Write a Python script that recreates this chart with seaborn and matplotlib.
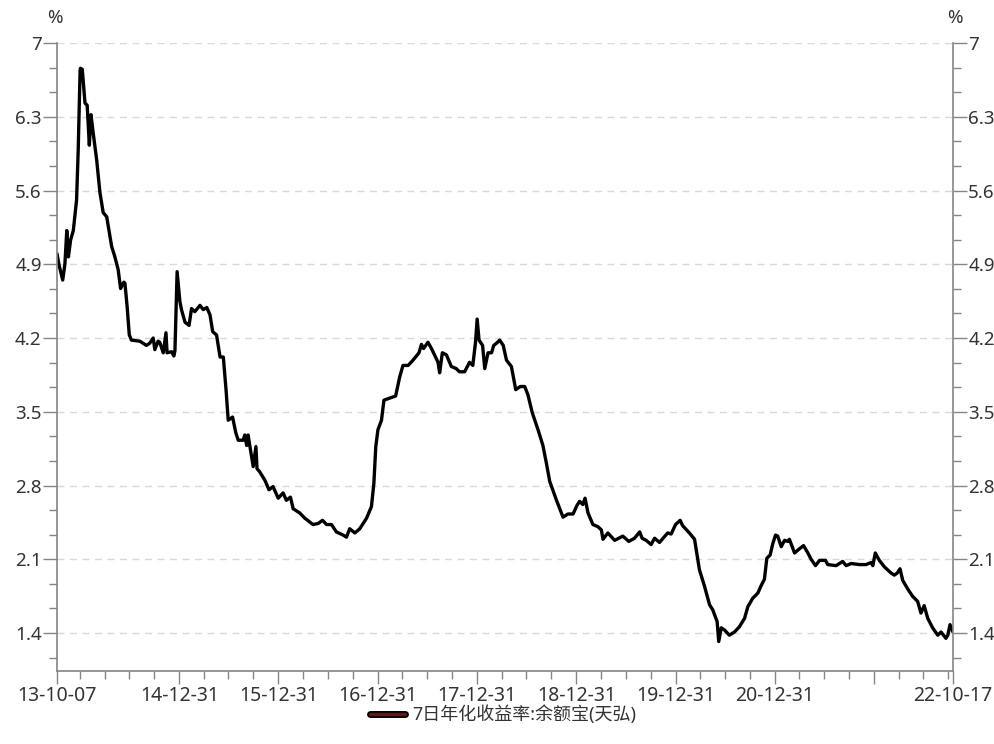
import pandas as pd
import matplotlib
matplotlib.use("Agg")
import matplotlib.pyplot as plt
import matplotlib.dates as mdates
import matplotlib.patheffects as pe
from matplotlib.lines import Line2D
from matplotlib.ticker import MultipleLocator, FuncFormatter
import seaborn as sns

series_name = "7日年化收益率:余额宝(天弘)"

# 7-day annualised yield, %
dates = [
    "2013-10-07", "2013-10-14", "2013-10-28", "2013-11-05", "2013-11-12", "2013-11-18", "2013-11-26",
    "2013-12-06", "2013-12-18", "2013-12-24", "2013-12-31",
    "2014-01-01", "2014-01-08", "2014-01-18", "2014-01-26", "2014-02-03", "2014-02-09", "2014-02-17",
    "2014-03-02", "2014-03-14", "2014-03-26", "2014-04-08", "2014-04-26", "2014-05-08", "2014-05-20",
    "2014-05-29", "2014-06-10", "2014-06-14", "2014-06-22", "2014-06-30", "2014-07-08", "2014-08-08",
    "2014-09-01", "2014-09-13", "2014-09-26", "2014-10-02", "2014-10-14", "2014-10-20", "2014-11-02",
    "2014-11-12", "2014-11-16", "2014-12-03", "2014-12-11", "2014-12-15", "2014-12-23",
    "2015-01-02", "2015-01-08", "2015-01-21", "2015-02-05", "2015-02-14", "2015-02-26", "2015-03-17",
    "2015-03-29", "2015-04-11", "2015-04-23", "2015-05-03", "2015-05-17", "2015-05-30", "2015-06-11",
    "2015-06-21", "2015-06-29", "2015-07-15", "2015-07-27", "2015-08-05", "2015-08-23", "2015-08-29",
    "2015-09-05", "2015-09-10", "2015-09-29", "2015-10-09", "2015-10-13", "2015-10-23", "2015-11-11",
    "2015-11-26", "2015-12-11", "2015-12-30",
    "2016-01-17", "2016-01-29", "2016-02-13", "2016-02-23", "2016-03-18", "2016-04-06", "2016-05-06",
    "2016-05-25", "2016-06-10", "2016-06-25", "2016-07-13", "2016-07-31", "2016-08-25", "2016-09-06",
    "2016-09-18", "2016-10-07", "2016-10-25", "2016-11-19", "2016-12-07", "2016-12-16", "2016-12-23",
    "2016-12-31",
    "2017-01-13", "2017-01-22", "2017-02-12", "2017-03-06", "2017-03-21", "2017-04-02", "2017-04-21",
    "2017-05-09", "2017-05-31", "2017-06-09", "2017-06-17", "2017-07-03", "2017-07-16", "2017-07-31",
    "2017-08-09", "2017-08-15", "2017-08-25", "2017-09-09", "2017-09-27", "2017-10-15", "2017-10-27",
    "2017-11-15", "2017-12-03", "2017-12-15", "2017-12-25", "2017-12-31",
    "2018-01-07", "2018-01-20", "2018-01-28", "2018-02-09", "2018-02-22", "2018-03-02", "2018-03-12",
    "2018-03-24", "2018-04-06", "2018-04-18", "2018-05-06", "2018-05-22", "2018-06-08", "2018-06-24",
    "2018-07-06", "2018-07-22", "2018-08-12", "2018-08-30", "2018-09-12", "2018-09-24", "2018-10-19",
    "2018-11-12", "2018-11-30", "2018-12-19",
    "2019-01-02", "2019-01-12", "2019-01-24", "2019-02-01", "2019-02-12", "2019-03-02", "2019-03-20",
    "2019-04-02", "2019-04-08", "2019-04-26", "2019-05-21", "2019-06-20", "2019-07-12", "2019-08-02",
    "2019-08-21", "2019-08-30", "2019-09-14", "2019-10-02", "2019-10-15", "2019-11-02", "2019-12-02",
    "2019-12-15", "2019-12-31",
    "2020-01-17", "2020-01-26", "2020-02-02", "2020-02-20", "2020-03-10", "2020-03-28", "2020-04-15",
    "2020-05-04", "2020-05-16", "2020-06-01", "2020-06-07", "2020-06-16", "2020-06-28", "2020-07-16",
    "2020-08-04", "2020-08-22", "2020-09-10", "2020-09-22", "2020-10-10", "2020-10-29", "2020-11-10",
    "2020-11-22", "2020-12-01", "2020-12-13", "2020-12-23",
    "2021-01-02", "2021-01-10", "2021-01-23", "2021-02-04", "2021-02-16", "2021-02-22", "2021-03-13",
    "2021-03-31", "2021-04-15", "2021-05-01", "2021-05-13", "2021-05-29", "2021-06-13", "2021-07-05",
    "2021-07-13", "2021-08-13", "2021-09-06", "2021-09-19", "2021-10-07", "2021-11-07", "2021-12-01",
    "2021-12-20", "2021-12-26",
    "2022-01-04", "2022-01-19", "2022-02-06", "2022-03-03", "2022-03-15", "2022-03-26", "2022-04-05",
    "2022-04-15", "2022-05-03", "2022-05-21", "2022-06-09", "2022-06-21", "2022-07-03", "2022-07-16",
    "2022-08-03", "2022-08-22", "2022-09-03", "2022-09-21", "2022-09-28", "2022-10-06", "2022-10-17",
]
yields = [
    5.00, 4.90, 4.75, 4.90, 5.22, 4.97, 5.13,
    5.22, 5.51, 5.98, 6.74,
    6.76, 6.75, 6.43, 6.41, 6.03, 6.32, 6.15,
    5.89, 5.58, 5.39, 5.35, 5.07, 4.97, 4.85,
    4.67, 4.73, 4.72, 4.50, 4.23, 4.18, 4.17,
    4.13, 4.15, 4.20, 4.09, 4.17, 4.16, 4.06,
    4.25, 4.06, 4.07, 4.03, 4.08, 4.83,
    4.55, 4.47, 4.35, 4.32, 4.48, 4.45, 4.51,
    4.47, 4.49, 4.42, 4.26, 4.23, 4.02, 4.02,
    3.71, 3.42, 3.45, 3.30, 3.23, 3.23, 3.28,
    3.18, 3.28, 2.98, 3.17, 2.96, 2.93, 2.85,
    2.76, 2.79, 2.68,
    2.73, 2.66, 2.69, 2.58, 2.54, 2.49, 2.43,
    2.44, 2.47, 2.43, 2.43, 2.36, 2.33, 2.31,
    2.39, 2.35, 2.39, 2.49, 2.60, 2.82, 3.17,
    3.33,
    3.42, 3.61, 3.63, 3.65, 3.83, 3.94, 3.94,
    3.99, 4.06, 4.14, 4.10, 4.16, 4.10, 4.02,
    3.97, 3.87, 4.06, 4.04, 3.93, 3.91, 3.88,
    3.88, 3.97, 3.94, 4.16, 4.38,
    4.18, 4.13, 3.91, 4.06, 4.06, 4.13, 4.15,
    4.18, 4.13, 3.99, 3.93, 3.71, 3.74, 3.74,
    3.66, 3.49, 3.33, 3.18, 3.01, 2.84, 2.66,
    2.50, 2.53, 2.53,
    2.61, 2.65, 2.62, 2.68, 2.54, 2.43, 2.41,
    2.38, 2.29, 2.35, 2.28, 2.32, 2.27, 2.30,
    2.36, 2.30, 2.28, 2.24, 2.30, 2.26, 2.35,
    2.34, 2.43,
    2.47, 2.42, 2.40, 2.35, 2.29, 2.00, 1.85,
    1.67, 1.62, 1.51, 1.32, 1.45, 1.43, 1.38,
    1.41, 1.46, 1.54, 1.65, 1.73, 1.78, 1.85,
    1.91, 2.11, 2.14, 2.25,
    2.33, 2.32, 2.22, 2.28, 2.27, 2.29, 2.16,
    2.20, 2.23, 2.16, 2.10, 2.04, 2.09, 2.09,
    2.05, 2.04, 2.08, 2.04, 2.06, 2.05, 2.05,
    2.07, 2.04,
    2.16, 2.09, 2.03, 1.97, 1.95, 1.97, 2.01,
    1.90, 1.82, 1.75, 1.70, 1.59, 1.66, 1.54,
    1.45, 1.38, 1.41, 1.35, 1.38, 1.48, 1.41,
]

major_dates = ["2013-10-07", "2014-12-31", "2015-12-31", "2016-12-31", "2017-12-31",
               "2018-12-31", "2019-12-31", "2020-12-31", "2021-12-31", "2022-10-17"]
major_labels = ["13-10-07", "14-12-31", "15-12-31", "16-12-31", "17-12-31",
                "18-12-31", "19-12-31", "20-12-31", "", "22-10-17"]

sns.set_theme(style="white")
plt.rcParams["font.family"] = ["Noto Sans", "Noto Sans CJK SC", "DejaVu Sans"]
plt.rcParams["axes.unicode_minus"] = False

df = pd.DataFrame({"date": pd.to_datetime(dates), "yield": yields})

fig = plt.figure(figsize=(9.95, 7.44), dpi=100)
ax = fig.add_axes([57 / 995, 1 - 671 / 744, (953 - 57) / 995, (671 - 43) / 744])

sns.lineplot(data=df, x="date", y="yield", ax=ax, color="black", linewidth=2.4,
             estimator=None, sort=False)

# x axis: year-end majors, quarter-end minors
start, end = pd.Timestamp(major_dates[0]), pd.Timestamp(major_dates[-1])
majors = pd.to_datetime(major_dates)
minors = [pd.Timestamp("2013-12-31")]
for yr in range(2014, 2023):
    for md in ["03-31", "06-30", "09-30", "12-31"]:
        d = pd.Timestamp(f"{yr}-{md}")
        if d < end and d not in set(majors):
            minors.append(d)
ax.set_xticks(mdates.date2num(majors))
ax.set_xticklabels(major_labels)
ax.set_xticks(mdates.date2num(minors), minor=True)
ax.set_xlim(start, end)

ax.set_ylim(1.04, 7.0)
ax.yaxis.set_major_locator(MultipleLocator(0.7))
ax.yaxis.set_minor_locator(MultipleLocator(0.7 / 3))
ax.yaxis.set_major_formatter(FuncFormatter(lambda v, p: f"{round(v, 2):g}"))

ax.set_xlabel("")
ax.set_ylabel("")

axis_col = "#858585"
txt_col = "#333333"
for side in ["left", "right", "bottom"]:
    ax.spines[side].set_visible(True)
    ax.spines[side].set_color(axis_col)
    ax.spines[side].set_linewidth(1.2)
ax.spines["top"].set_visible(False)

ax.tick_params(axis="x", which="major", direction="out", length=9, width=1, color=axis_col,
               labelsize=14, labelcolor=txt_col, pad=1.5, bottom=True)
ax.tick_params(axis="x", which="minor", direction="out", length=6, width=1, color=axis_col,
               bottom=True)
ax.tick_params(axis="y", which="major", direction="out", length=10, width=1, color=axis_col,
               labelsize=13.5, labelcolor=txt_col, pad=1, left=True, right=True,
               labelleft=True, labelright=True)
ax.tick_params(axis="y", which="minor", direction="out", length=6, width=1, color=axis_col,
               left=True, right=True)

ax.yaxis.grid(True, which="major", linestyle=(0, (5, 4)), color="#d9d9d9", linewidth=1)
ax.xaxis.grid(False)

fig.text(55 / 995, 1 - 18 / 744, "%", ha="center", va="center", fontsize=13.5, color=txt_col)
fig.text(955 / 995, 1 - 18 / 744, "%", ha="center", va="center", fontsize=13.5, color=txt_col)

handle = Line2D([0], [0], color="#5a1a1a", linewidth=2.5,
                path_effects=[pe.Stroke(linewidth=5, foreground="black"), pe.Normal()])
fig.legend(handles=[handle], labels=[series_name], loc="center",
           bbox_to_anchor=(503 / 995, 1 - 715 / 744), frameon=False, fontsize=13,
           handlelength=1.9, handletextpad=0.4, labelcolor=txt_col,
           borderpad=0.1)

fig.savefig("out.png", dpi=100)
